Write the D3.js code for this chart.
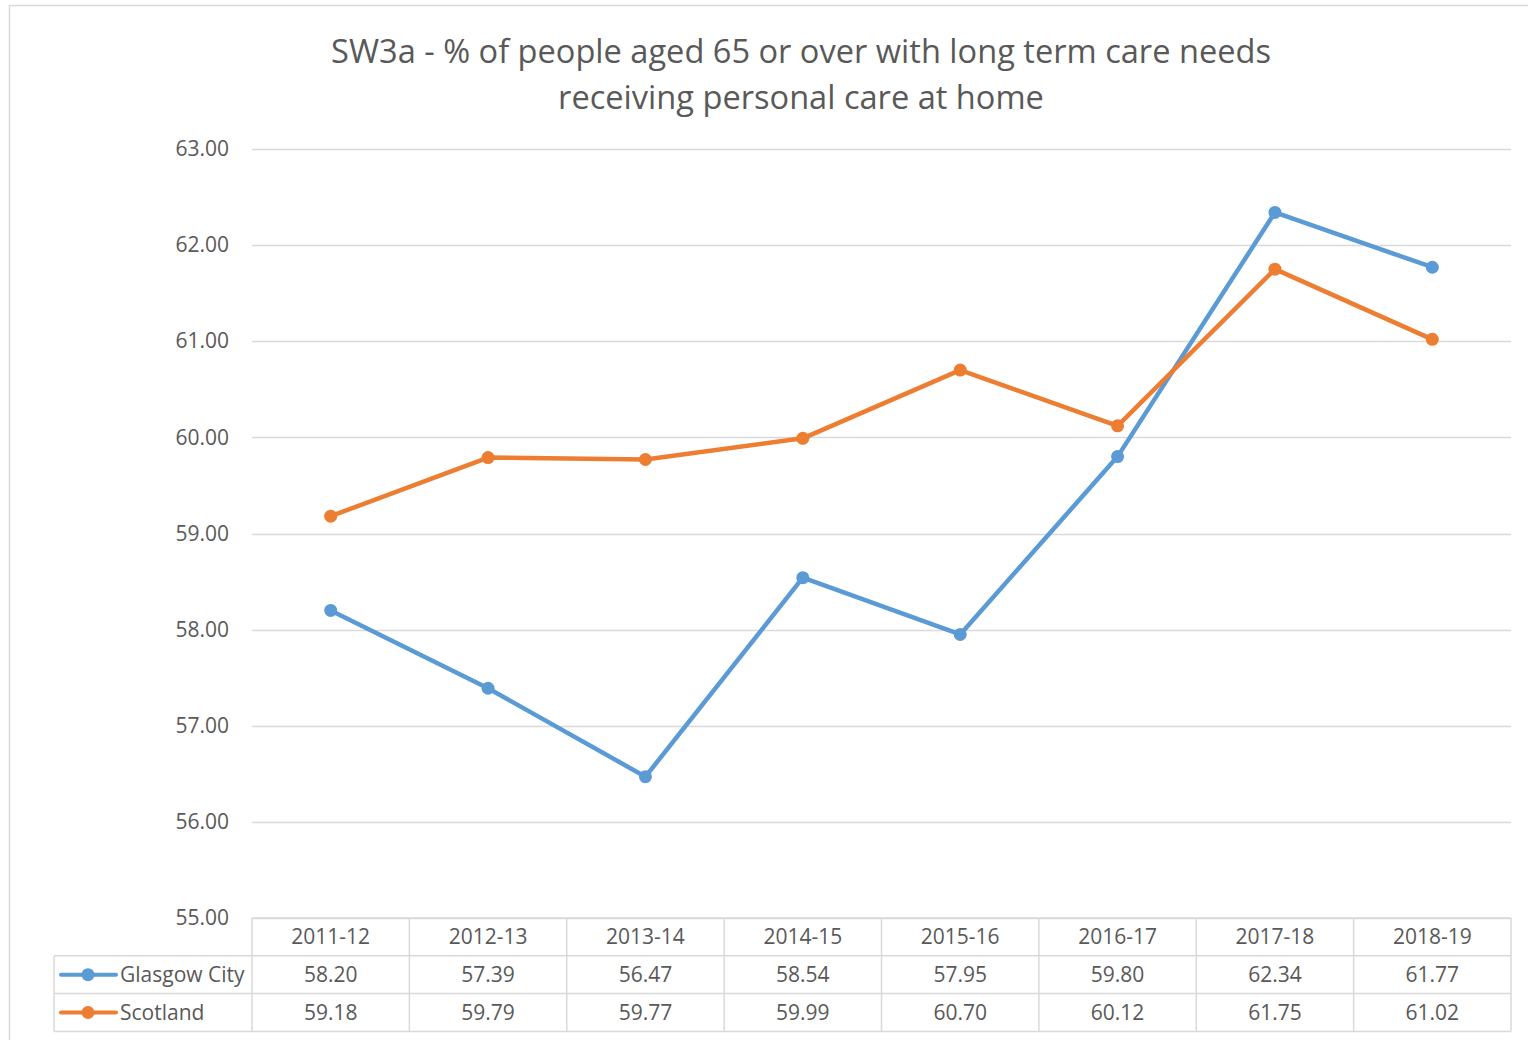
<!DOCTYPE html>
<html>
<head>
<meta charset="utf-8">
<script src="https://cdn.jsdelivr.net/npm/d3@7"></script>
<style>
  html, body { margin: 0; padding: 0; background: #fff; }
  svg { display: block; }
  text { font-family: "Open Sans", "Noto Sans", sans-serif; fill: #595959; }
</style>
</head>
<body>
<svg id="chart" width="1528" height="1040"></svg>
<script>
// Reporting years
const years = ["2011-12", "2012-13", "2013-14", "2014-15", "2015-16", "2016-17", "2017-18", "2018-19"];
// % of people aged 65+ with long term care needs receiving personal care at home
const glasgowCity = [58.20, 57.39, 56.47, 58.54, 57.95, 59.80, 62.34, 61.77];
const scotland    = [59.18, 59.79, 59.77, 59.99, 60.70, 60.12, 61.75, 61.02];
const seriesNames = ["Glasgow City", "Scotland"];
const seriesColors = ["#5b9bd5", "#ed7d31"];
const yTicks = [55, 56, 57, 58, 59, 60, 61, 62, 63];
const titleLines = ["SW3a - % of people aged 65 or over with long term care needs", "receiving personal care at home"];

(function () {
const series = [glasgowCity, scotland].map((values, i) => ({
  name: seriesNames[i], color: seriesColors[i], values
}));

const svg = d3.select("#chart");
const grid = "#d9d9d9";
const labelSize = "21px";

// Outer chart frame
svg.append("path")
  .attr("d", "M9.5,1040 V5.5 H1528")
  .attr("fill", "none").attr("stroke", grid).attr("stroke-width", 1.5);

// Title
svg.append("g").selectAll("text").data(titleLines).join("text")
  .attr("x", 801).attr("y", (d, i) => 63 + i * 46)
  .attr("text-anchor", "middle")
  .style("font-size", "32.6px")
  .text(d => d);

const plotL = 252, plotR = 1511, plotT = 149, plotB = 918;
const x = d3.scaleBand().domain(years).range([plotL, plotR]);
const y = d3.scaleLinear().domain([55, 63]).range([plotB, plotT]);

// Horizontal gridlines
svg.append("g").selectAll("line").data(yTicks).join("line")
  .attr("x1", plotL).attr("x2", plotR)
  .attr("y1", d => Math.round(y(d)) + 0.5).attr("y2", d => Math.round(y(d)) + 0.5)
  .attr("stroke", grid).attr("stroke-width", 1.5);

// Y axis labels
const yAxis = d3.axisLeft(y).tickValues(yTicks).tickFormat(d3.format(".2f")).tickSize(0).tickPadding(23);
const yg = svg.append("g").attr("transform", `translate(${plotL},0)`).call(yAxis);
yg.select(".domain").remove();
yg.selectAll("text").style("font-size", labelSize).attr("fill", "#595959")
  .style("font-family", "'Open Sans', 'Noto Sans', sans-serif");

// Data table beneath the axis
const rowH = 37.8;
const tableLeft = 54;
const rows = [plotB, plotB + rowH, plotB + 2 * rowH, plotB + 3 * rowH];
const tg = svg.append("g").attr("stroke", grid).attr("stroke-width", 1.5);
tg.append("line").attr("x1", plotL).attr("x2", plotR).attr("y1", rows[0]).attr("y2", rows[0]);
[1, 2, 3].forEach(k => {
  tg.append("line").attr("x1", tableLeft).attr("x2", plotR).attr("y1", rows[k]).attr("y2", rows[k]);
});
tg.append("line").attr("x1", tableLeft).attr("x2", tableLeft).attr("y1", rows[1]).attr("y2", rows[3]);
const colEdges = years.map(d => x(d)).concat([plotR]);
tg.selectAll("line.col").data(colEdges).join("line").attr("class", "col")
  .attr("x1", d => d).attr("x2", d => d).attr("y1", rows[0]).attr("y2", rows[3]);

// Header labels
svg.append("g").selectAll("text").data(years).join("text")
  .attr("x", d => x(d) + x.bandwidth() / 2)
  .attr("y", (rows[0] + rows[1]) / 2 + 7)
  .attr("text-anchor", "middle").style("font-size", labelSize)
  .text(d => d);

// Value rows with legend keys
series.forEach((s, i) => {
  const cy = (rows[i + 1] + rows[i + 2]) / 2;
  const g = svg.append("g");
  g.selectAll("text").data(s.values).join("text")
    .attr("x", (d, j) => x(years[j]) + x.bandwidth() / 2)
    .attr("y", cy + 7)
    .attr("text-anchor", "middle").style("font-size", labelSize)
    .text(d => d.toFixed(2));
  g.append("line").attr("x1", 61).attr("x2", 116).attr("y1", cy).attr("y2", cy)
    .attr("stroke", s.color).attr("stroke-width", 4).attr("stroke-linecap", "round");
  g.append("circle").attr("cx", 88).attr("cy", cy).attr("r", 6.5).attr("fill", s.color);
  g.append("text").attr("x", 120).attr("y", cy + 7).style("font-size", labelSize).text(s.name);
});

// Series lines and markers
const line = d3.line()
  .x((d, i) => x(years[i]) + x.bandwidth() / 2)
  .y(d => y(d));

series.forEach(s => {
  const g = svg.append("g");
  g.append("path").datum(s.values).attr("d", line)
    .attr("fill", "none").attr("stroke", s.color).attr("stroke-width", 4.5)
    .attr("stroke-linejoin", "round").attr("stroke-linecap", "round");
  g.selectAll("circle").data(s.values).join("circle")
    .attr("cx", (d, i) => x(years[i]) + x.bandwidth() / 2)
    .attr("cy", d => y(d))
    .attr("r", 6.5).attr("fill", s.color);
});
})();
</script>
</body>
</html>
